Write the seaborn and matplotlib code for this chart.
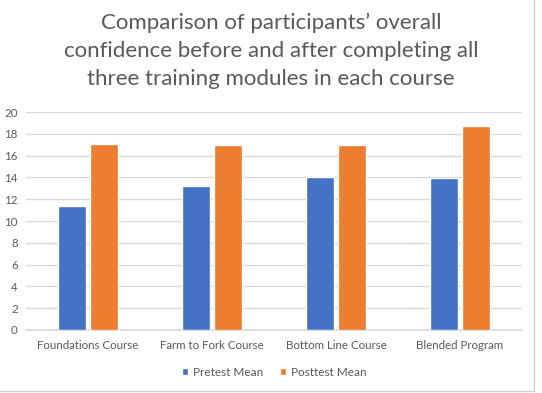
import matplotlib
matplotlib.use("Agg")
import matplotlib.pyplot as plt
import seaborn as sns
import pandas as pd
from matplotlib.lines import Line2D

# values
courses = ["Foundations Course", "Farm to Fork Course", "Bottom Line Course", "Blended Program"]
pretest_mean = [11.4, 13.2, 14.0, 13.9]
posttest_mean = [17.1, 17.0, 17.0, 18.7]
series_names = ["Pretest Mean", "Posttest Mean"]
y_ticks = list(range(0, 21, 2))

df = pd.DataFrame({
    "course": courses * 2,
    "series": [series_names[0]] * 4 + [series_names[1]] * 4,
    "value": pretest_mean + posttest_mean,
})

sns.set_theme(style="white")
plt.rcParams['font.family'] = ['Lato', 'DejaVu Sans']
text_gray = "#595959"

fig = plt.figure(figsize=(5.42, 3.93), dpi=100)
ax = fig.add_axes([26 / 542, 63 / 393, 496 / 542, 218 / 393])

sns.barplot(data=df, x="course", y="value", hue="series",
            palette=["#4472C4", "#ED7D31"], width=0.51, gap=0.11,
            saturation=1, ax=ax, zorder=3)

ax.set_ylim(0, 20)
ax.set_yticks(y_ticks)
ax.set_xlim(-0.5, 3.5)
ax.grid(axis="y", color="#D9D9D9", linewidth=1, zorder=0)
ax.set_axisbelow(True)
for s in ["top", "right", "left"]:
    ax.spines[s].set_visible(False)
ax.spines["bottom"].set_color("#D9D9D9")
ax.set_xlabel("")
ax.set_ylabel("")
ax.tick_params(axis="x", length=0, labelsize=8.3, colors=text_gray, pad=7)
ax.tick_params(axis="y", length=0, labelsize=8.3, colors=text_gray, pad=6)

ax.legend(loc="upper center", bbox_to_anchor=(0.5, -0.12), ncol=2, frameon=False,
          fontsize=8.5, labelcolor=text_gray, handlelength=0.55, handleheight=0.55,
          handletextpad=0.4, columnspacing=1.4)

fig.suptitle("Comparison of participants\u2019 overall\n"
             "confidence before and after completing all\n"
             "three training modules in each course",
             x=0.5, y=0.968, fontsize=16, color=text_gray, linespacing=1.5)

# thin chart border on the right and bottom like the original image
fig.add_artist(Line2D([534 / 542, 534 / 542], [2 / 393, 1], color="#D0D0D0", linewidth=1))
fig.add_artist(Line2D([0, 534 / 542], [2 / 393, 2 / 393], color="#D0D0D0", linewidth=1))

fig.savefig("out.png", dpi=100)
